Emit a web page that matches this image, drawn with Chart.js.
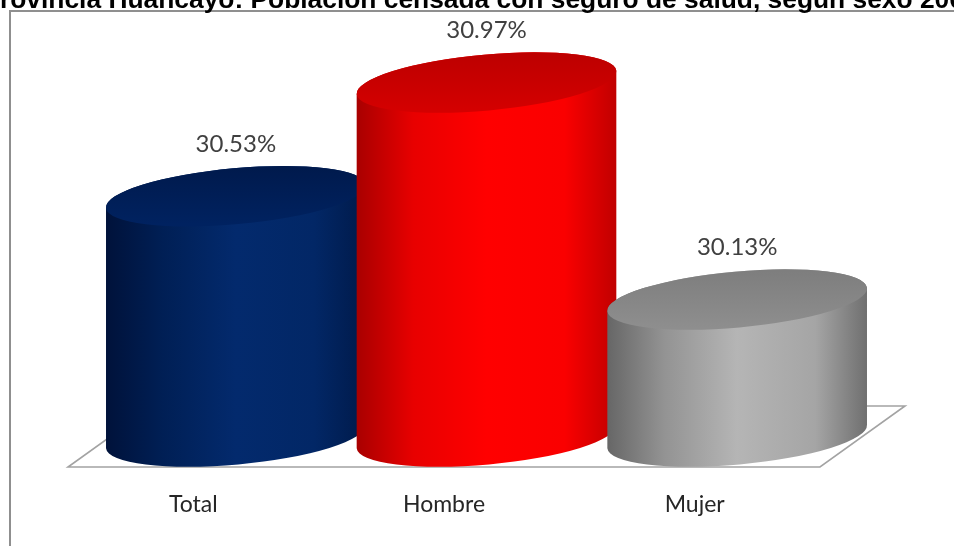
<!DOCTYPE html>
<html>
<head>
<meta charset="utf-8">
<script src="https://cdn.jsdelivr.net/npm/chart.js"></script>
<style>
  html, body { margin: 0; padding: 0; background: #ffffff; }
  #wrap { position: relative; width: 954px; height: 546px; overflow: hidden; }
  canvas { display: block; }
</style>
</head>
<body>
<div id="wrap"><canvas id="chart" width="954" height="546"></canvas></div>
<script>
// Data
const titleText = 'Provincia Huancayo: Población censada con seguro de salud, según sexo 2007';
const categories = ['Total', 'Hombre', 'Mujer'];
const seriesValues = [30.53, 30.97, 30.13];
const valueLabels = ['30.53%', '30.97%', '30.13%'];
const axisMin = 29.6;
const axisMax = 31.33;

// Colours per cylinder: side gradient stops and top fill
const cylinderColors = [
  { side: ['#00123a', '#001f55', '#032a6d', '#022766', '#001a4a'], top: ['#001a4d', '#002260'] },
  { side: ['#a80000', '#e80000', '#ff0000', '#fa0000', '#c00000'], top: ['#bd0000', '#d40000'] },
  { side: ['#666666', '#939393', '#b5b5b5', '#a5a5a5', '#6f6f6f'], top: ['#7e7e7e', '#8e8e8e'] }
];

const depth = { x: 85, y: -61 };   // floor depth vector
const tilt = -0.09;                // ellipse rotation
const ellipseB = 28;

const cylinderPlugin = {
  id: 'cylinders',
  beforeDatasetsDraw(chart) {
    const ctx = chart.ctx;
    const area = chart.chartArea;
    ctx.save();
    // frame
    ctx.strokeStyle = '#8f8f8f';
    ctx.lineWidth = 2;
    ctx.strokeRect(10, 11, 2000, 2000);
    // floor
    ctx.beginPath();
    ctx.moveTo(area.left, area.bottom);
    ctx.lineTo(area.right, area.bottom);
    ctx.lineTo(area.right + depth.x, area.bottom + depth.y);
    ctx.lineTo(area.left + depth.x, area.bottom + depth.y);
    ctx.closePath();
    ctx.fillStyle = '#ffffff';
    ctx.fill();
    ctx.strokeStyle = '#a3a3a3';
    ctx.lineWidth = 1.6;
    ctx.stroke();

    const meta = chart.getDatasetMeta(0);
    meta.data.forEach((bar, i) => {
      const col = cylinderColors[i];
      const cx = bar.x + depth.x / 2;
      const topY = bar.y + depth.y / 2;
      const botY = area.bottom + depth.y / 2;
      const a = bar.width / 2 * 1.04;
      const b = ellipseB;

      // side
      ctx.beginPath();
      ctx.ellipse(cx, botY, a, b, tilt, 0, Math.PI, false);
      ctx.lineTo(cx - a * Math.cos(tilt), topY - a * Math.sin(tilt));
      ctx.ellipse(cx, topY, a, b, tilt, Math.PI, 2 * Math.PI, false);
      ctx.closePath();
      const g = ctx.createLinearGradient(cx - a, 0, cx + a, 0);
      g.addColorStop(0, col.side[0]);
      g.addColorStop(0.22, col.side[1]);
      g.addColorStop(0.5, col.side[2]);
      g.addColorStop(0.8, col.side[3]);
      g.addColorStop(1, col.side[4]);
      ctx.fillStyle = g;
      ctx.fill();

      // top
      ctx.beginPath();
      ctx.ellipse(cx, topY, a, b, tilt, 0, 2 * Math.PI);
      const gt = ctx.createLinearGradient(0, topY - b, 0, topY + b);
      gt.addColorStop(0, col.top[0]);
      gt.addColorStop(1, col.top[1]);
      ctx.fillStyle = gt;
      ctx.fill();

      // value label
      ctx.fillStyle = '#404040';
      ctx.font = '24px Lato';
      ctx.textAlign = 'center';
      ctx.textBaseline = 'middle';
      ctx.fillText(valueLabels[i], cx, topY - b - 24);
    });
    ctx.restore();
  },
  afterDraw(chart) {
    const ctx = chart.ctx;
    ctx.save();
    // title: clipped at the top edge like the source image
    const visible = titleText.slice(1, titleText.indexOf('sexo') + 4);
    let size = 20;
    ctx.font = 'bold ' + size + 'px "Liberation Sans", Arial';
    size = size * 913 / ctx.measureText(visible).width;
    ctx.font = 'bold ' + size + 'px "Liberation Sans", Arial';
    const startX = -ctx.measureText('P').width;
    ctx.fillStyle = '#000000';
    ctx.textAlign = 'left';
    ctx.textBaseline = 'alphabetic';
    ctx.fillText(titleText, startX, 7.5);
    ctx.restore();
  }
};

new Chart(document.getElementById('chart'), {
  type: 'bar',
  data: {
    labels: categories,
    datasets: [{
      data: seriesValues,
      base: axisMin,
      backgroundColor: 'rgba(0,0,0,0)',
      borderWidth: 0,
      barPercentage: 1,
      categoryPercentage: 1
    }]
  },
  options: {
    responsive: false,
    animation: false,
    layout: { padding: { left: 68, right: 134, top: 20, bottom: 0 } },
    plugins: { legend: { display: false }, tooltip: { enabled: false } },
    scales: {
      y: { display: false, min: axisMin, max: axisMax },
      x: {
        grid: { display: false, drawTicks: false },
        border: { display: false },
        afterFit: (scale) => { scale.height = 79; },
        ticks: { color: '#262626', padding: 24, maxRotation: 0, font: { family: 'Lato', size: 23 } }
      }
    }
  },
  plugins: [cylinderPlugin]
});
</script>
</body>
</html>
